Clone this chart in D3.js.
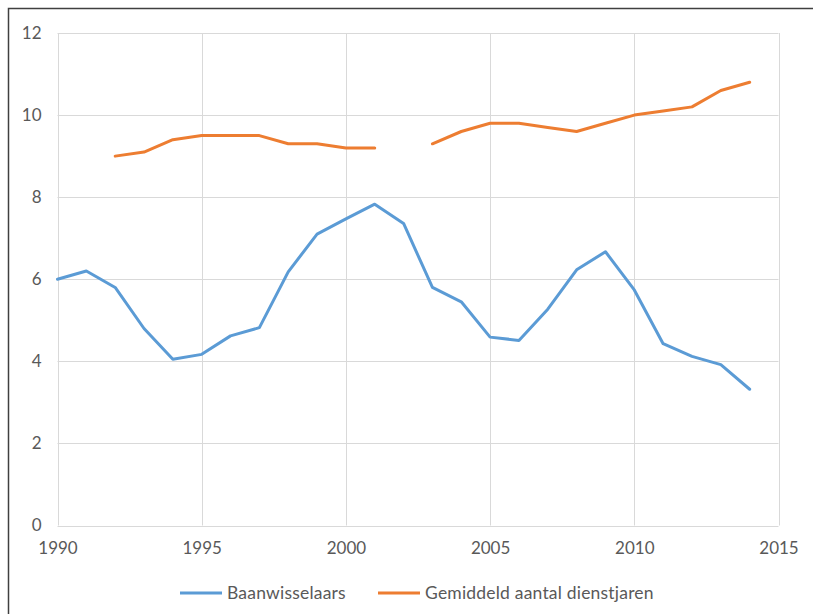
<!DOCTYPE html>
<html><head><meta charset="utf-8">
<script src="https://cdn.jsdelivr.net/npm/d3@7"></script>
<style>body{margin:0;background:#fff;}svg{display:block;}</style>
</head><body>
<script>
const years = d3.range(1990, 2015);
const baanwisselaars = [6.0,6.2,5.8,4.8,4.05,4.17,4.62,4.82,6.18,7.1,7.47,7.83,7.36,5.8,5.45,4.59,4.51,5.27,6.23,6.67,5.74,4.43,4.12,3.92,3.32];
const dienstjaren = [null,null,9.0,9.1,9.4,9.5,9.5,9.5,9.3,9.3,9.2,9.2,null,9.3,9.6,9.8,9.8,9.7,9.6,9.8,10.0,10.1,10.2,10.6,10.8];
const xTicks = [1990,1995,2000,2005,2010,2015];
const yTicks = [0,2,4,6,8,10,12];
const seriesNames = ["Baanwisselaars","Gemiddeld aantal dienstjaren"];
const colors = ["#5B9BD5","#ED7D31"];

const W=813,H=614;
const svg=d3.select("body").append("svg").attr("width",W).attr("height",H);
const font="Lato, 'Open Sans', sans-serif";
// outer frame
svg.append("path").attr("d","M8.5,614 L8.5,8.5 L813,8.5").attr("fill","none").attr("stroke","#404040").attr("stroke-width",1.5);

const x=d3.scaleLinear().domain([1990,2015]).range([57.5,778.5]);
const y=d3.scaleLinear().domain([0,12]).range([525.5,33]);

const g=svg.append("g");
// grid
g.selectAll(".vg").data(xTicks).enter().append("line")
 .attr("x1",d=>Math.round(x(d))+0.5).attr("x2",d=>Math.round(x(d))+0.5).attr("y1",y(12)).attr("y2",y(0))
 .attr("stroke","#d9d9d9").attr("stroke-width",1);
g.selectAll(".hg").data(yTicks).enter().append("line")
 .attr("x1",x(1990)).attr("x2",x(2015)).attr("y1",d=>Math.round(y(d))+0.5).attr("y2",d=>Math.round(y(d))+0.5)
 .attr("stroke","#d9d9d9").attr("stroke-width",1);

// axes via d3 axis
const yAxis=d3.axisLeft(y).tickValues(yTicks).tickSize(0).tickPadding(16);
const ya=svg.append("g").attr("transform",`translate(${x(1990)},0)`).call(yAxis);
ya.select(".domain").remove();
ya.selectAll("text").attr("font-family",font).attr("font-size",17).attr("fill","#595959");
const xAxis=d3.axisBottom(x).tickValues(xTicks).tickFormat(d3.format("d")).tickSize(0).tickPadding(16);
const xa=svg.append("g").attr("transform",`translate(0,${y(0)})`).call(xAxis);
xa.select(".domain").remove();
xa.selectAll("text").attr("font-family",font).attr("font-size",17).attr("fill","#595959");

// lines
const series=[baanwisselaars,dienstjaren];
series.forEach((s,i)=>{
  const line=d3.line().defined(d=>d!=null).x((d,j)=>x(years[j])).y(d=>y(d));
  svg.append("path").datum(s).attr("d",line).attr("fill","none").attr("stroke",colors[i])
   .attr("stroke-width",3).attr("stroke-linejoin","round").attr("stroke-linecap","round");
});

// legend
const legX=[180,378];
seriesNames.forEach((n,i)=>{
  svg.append("line").attr("x1",legX[i]).attr("x2",legX[i]+42).attr("y1",593).attr("y2",593)
    .attr("stroke",colors[i]).attr("stroke-width",3);
  svg.append("text").attr("x",legX[i]+47).attr("y",599).text(n)
    .attr("font-family",font).attr("font-size",17.5).attr("letter-spacing",0.2).attr("fill","#595959");
});
</script>
</body></html>
